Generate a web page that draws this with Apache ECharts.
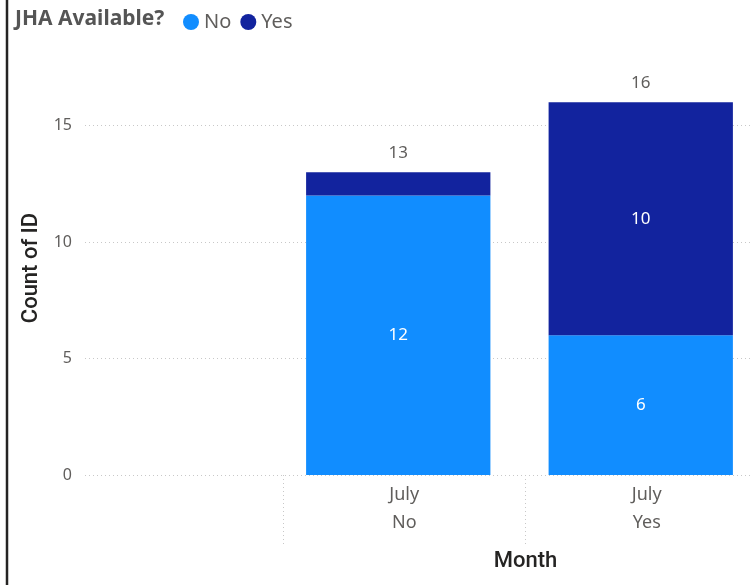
<!DOCTYPE html>
<html>
<head>
<meta charset="utf-8">
<title>JHA Available? by Month</title>
<script src="https://cdn.jsdelivr.net/npm/echarts@6/dist/echarts.min.js"></script>
<style>
  html, body { margin: 0; padding: 0; background: #fff; overflow: hidden; }
  /* the visual is scrolled: its plot runs a little past the right edge */
  #chart { width: 768px; height: 585px; }
</style>
</head>
<body>
<div id="chart"></div>
<script>
// Month / JHA hierarchy on the category axis
const months = ['July', 'July'];
const jhaGroups = ['No', 'Yes'];
// Count of ID per legend series
const countNo = [12, 6];
const countYes = [1, 10];
// Value axis ticks
const yTicks = [0, 5, 10, 15];

const categories = months.map((m, i) => m + '\n' + jhaGroups[i]);
const totals = countNo.map((v, i) => v + countYes[i]);

const COLOR_NO = '#118DFF';
const COLOR_YES = '#12239E';
const TEXT_GRAY = '#605E5C';
const FONT = '"Segoe UI", "Noto Sans", "Open Sans", sans-serif';
const TITLE_FONT = 'Roboto, "DejaVu Sans", sans-serif';

const Y_MAX = 17;
const PLOT_TOP = 79;
const PLOT_BOTTOM = 110;

const chart = echarts.init(document.getElementById('chart'), null, { renderer: 'canvas' });

const insideLabel = {
  show: true,
  position: 'inside',
  color: '#fff',
  fontFamily: FONT,
  fontSize: 17,
  formatter: p => (p.value >= 2 ? String(p.value) : '')
};

const barCommon = {
  type: 'bar',
  xAxisIndex: 2,
  yAxisIndex: 2,
  stack: 'count',
  barCategoryGap: '24%'
};

chart.setOption({
  animation: false,
  backgroundColor: '#fff',
  textStyle: { fontFamily: FONT },
  title: {
    text: 'JHA Available?',
    left: 15,
    top: 9,
    padding: 0,
    textStyle: { fontFamily: FONT, fontSize: 21, fontWeight: 'bold', color: '#555' }
  },
  legend: {
    left: 183,
    top: 12,
    padding: 0,
    icon: 'circle',
    itemWidth: 16,
    itemHeight: 16,
    itemGap: 9,
    textStyle: { fontFamily: FONT, fontSize: 20, color: TEXT_GRAY, padding: [0, 0, 0, 0] },
    data: ['No', 'Yes']
  },
  grid: [
    // full-width grid carrying the value axis and gridlines
    { left: 85, right: 0, top: PLOT_TOP, bottom: PLOT_BOTTOM },
    // category axis: labels and group separators
    { left: 283, right: 0, top: PLOT_TOP, bottom: PLOT_BOTTOM },
    // columns sit slightly left of their category bands
    { left: 277, right: 6, top: PLOT_TOP, bottom: PLOT_BOTTOM }
  ],
  xAxis: [
    { gridIndex: 0, type: 'value', show: false, min: 0, max: 1 },
    {
      gridIndex: 1,
      type: 'category',
      data: categories,
      name: 'Month',
      nameLocation: 'middle',
      nameGap: 75,
      nameTextStyle: { fontFamily: TITLE_FONT, fontSize: 22, fontWeight: 500, color: '#252423' },
      axisLine: { show: false },
      axisTick: {
        show: true,
        length: 72,
        lineStyle: { color: '#C8C8C8', width: 1, type: [1, 3] }
      },
      axisLabel: {
        color: TEXT_GRAY,
        fontFamily: FONT,
        fontSize: 18,
        lineHeight: 28,
        margin: 6
      }
    },
    { gridIndex: 2, type: 'category', data: categories, show: false }
  ],
  yAxis: [
    {
      gridIndex: 0,
      type: 'value',
      min: 0,
      max: Y_MAX,
      interval: 5,
      name: 'Count of ID',
      nameLocation: 'middle',
      nameGap: 43,
      nameTextStyle: {
        fontFamily: TITLE_FONT, fontSize: 22, fontWeight: 500, color: '#252423',
        padding: [0, 0, 0, 18]
      },
      axisLine: { show: false },
      axisTick: { show: false },
      axisLabel: {
        color: TEXT_GRAY,
        fontFamily: FONT,
        fontSize: 16,
        margin: 13,
        showMaxLabel: false,
        formatter: v => (yTicks.includes(v) ? String(v) : '')
      },
      splitLine: {
        show: true,
        showMaxLine: false,
        lineStyle: { color: '#C8C8C8', width: 1, type: [1, 3] }
      }
    },
    { gridIndex: 1, type: 'value', min: 0, max: Y_MAX, show: false },
    { gridIndex: 2, type: 'value', min: 0, max: Y_MAX, show: false }
  ],
  series: [
    Object.assign({}, barCommon, {
      name: 'No',
      itemStyle: { color: COLOR_NO },
      label: insideLabel,
      data: countNo
    }),
    Object.assign({}, barCommon, {
      name: 'Yes',
      itemStyle: { color: COLOR_YES },
      label: insideLabel,
      data: countYes
    }),
    Object.assign({}, barCommon, {
      // zero-height cap carrying the column totals
      name: 'Total',
      itemStyle: { color: 'transparent' },
      silent: true,
      label: {
        show: true,
        position: 'top',
        distance: 11,
        color: TEXT_GRAY,
        fontFamily: FONT,
        fontSize: 17,
        formatter: p => String(totals[p.dataIndex])
      },
      data: totals.map(() => 0)
    })
  ],
  graphic: [
    {
      type: 'line',
      shape: { x1: 7, y1: 0, x2: 7, y2: 585 },
      style: { stroke: '#252423', lineWidth: 2.5 },
      silent: true
    }
  ]
});
</script>
</body>
</html>
